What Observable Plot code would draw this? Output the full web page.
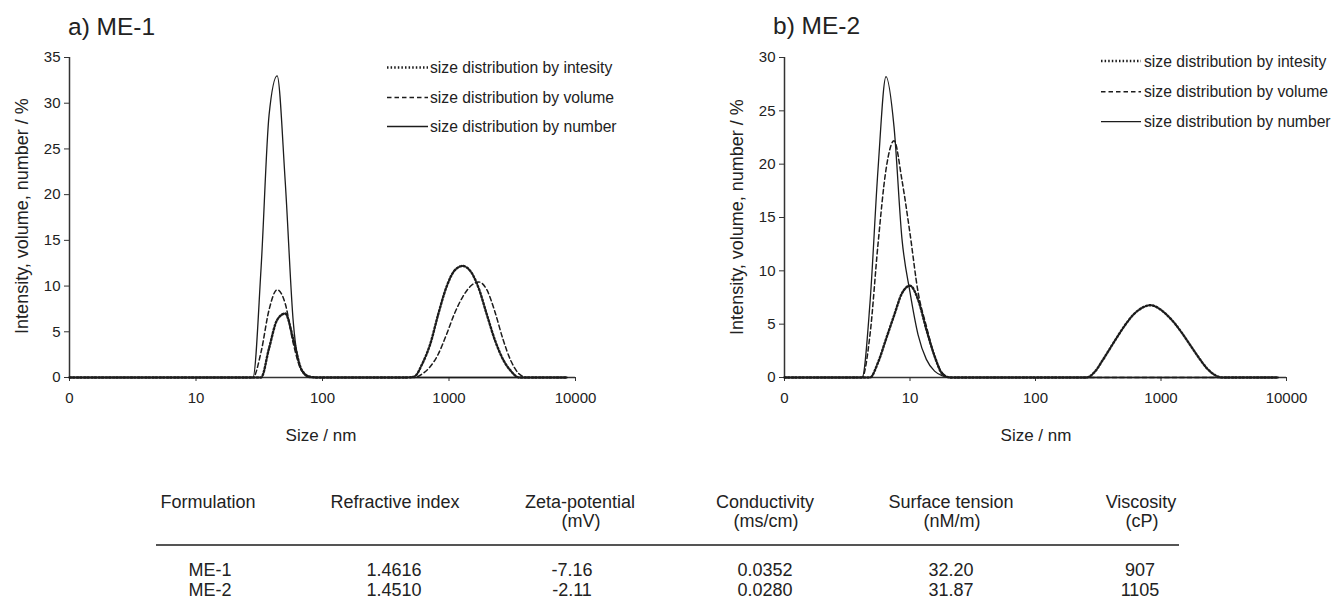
<!DOCTYPE html>
<html><head><meta charset="utf-8">
<script src="https://cdn.jsdelivr.net/npm/d3@7"></script>
<script src="https://cdn.jsdelivr.net/npm/@observablehq/plot@0.6"></script>
<style>
body{margin:0;background:#fff;font-family:"Liberation Sans",Arial,sans-serif;color:#222}
#wrap{position:relative;width:1333px;height:599px;overflow:hidden;background:#fff}
#wrap > svg{position:absolute;top:0}
</style></head><body><div id="wrap"></div>
<script>
// ---------- data ----------
const xTicks = [1, 10, 100, 1000, 10000];
const xTickLabels = ["0", "10", "100", "1000", "10000"];
const yTicksME1 = [0, 5, 10, 15, 20, 25, 30, 35];
const yTicksME2 = [0, 5, 10, 15, 20, 25, 30];
const seriesNames = ["size distribution by intesity", "size distribution by volume", "size distribution by number"];

// ME-1 (sizes in nm, values in %)
const me1IntensitySize = [1, 32.7, 37.8, 43.8, 50.7, 58.8, 68.1, 78.8, 91.3, 459, 531, 615, 712, 825, 955, 1106, 1281, 1484, 1718, 1990, 2305, 2669, 3091, 3580, 8600];
const me1IntensityVal  = [0, 0, 3.2, 6.3, 7.0, 4.2, 0.9, 0.1, 0, 0, 0.1, 1.5, 3.7, 7.0, 9.9, 11.7, 12.2, 11.6, 9.75, 6.9, 4.1, 2.0, 0.7, 0, 0];
const me1VolumeSize = [1, 28.2, 32.7, 37.8, 43.8, 50.7, 58.8, 68.1, 78.8, 91.3, 531, 615, 712, 825, 955, 1106, 1281, 1484, 1718, 1990, 2305, 2669, 3091, 3580, 4145, 8600];
const me1VolumeVal  = [0, 0, 2.8, 7.4, 9.6, 8.1, 3.7, 0.8, 0.1, 0, 0, 0.4, 1.2, 2.6, 4.7, 7.0, 8.8, 10.0, 10.45, 9.6, 7.2, 4.2, 1.8, 0.4, 0, 0];
const me1NumberSize = [1, 28.2, 32.7, 37.8, 43.8, 50.7, 58.8, 68.1, 78.8, 8600];
const me1NumberVal  = [0, 0, 12, 28.7, 33, 21.5, 6, 0.8, 0, 0];

// ME-2
const me2IntensitySize = [1, 4.8, 5.56, 6.44, 7.46, 8.63, 10.0, 11.6, 13.5, 15.7, 18.2, 21.0, 255, 295, 342, 396, 459, 531, 615, 712, 825, 955, 1106, 1281, 1484, 1718, 1990, 2305, 2669, 3091, 8600];
const me2IntensityVal  = [0, 0, 1.4, 3.6, 5.8, 7.9, 8.6, 7.3, 4.5, 2.0, 0.3, 0, 0, 0.5, 1.6, 2.8, 4.0, 5.1, 6.0, 6.55, 6.78, 6.5, 5.9, 5.1, 4.1, 3.0, 1.9, 0.9, 0.25, 0, 0];
const me2VolumeSize = [1, 4.15, 4.8, 5.56, 6.44, 7.46, 8.63, 10.0, 11.6, 13.5, 15.7, 18.2, 21.0, 8600];
const me2VolumeVal  = [0, 0, 4, 12.5, 19.5, 22.2, 18.5, 13.5, 8, 4.8, 2, 0.4, 0, 0];
const me2NumberSize = [1, 4.15, 4.8, 5.56, 6.44, 7.46, 8.63, 10.0, 11.6, 13.5, 15.7, 18.2, 21.0, 8600];
const me2NumberVal  = [0, 0, 7, 19.5, 28.2, 23.5, 13, 8, 4, 1.7, 0.6, 0.15, 0, 0];

// table
const tableColumns = ["Formulation", "Refractive index", "Zeta-potential", "Conductivity", "Surface tension", "Viscosity"];
const tableUnits = ["", "", "(mV)", "(ms/cm)", "(nM/m)", "(cP)"];
const formulations = ["ME-1", "ME-2"];
const refractiveIndex = ["1.4616", "1.4510"];
const zetaPotential = ["-7.16", "-2.11"];
const conductivity = ["0.0352", "0.0280"];
const surfaceTension = ["32.20", "31.87"];
const viscosity = ["907", "1105"];

// ---------- drawing ----------
const FONT = '"Liberation Sans", Arial, sans-serif';
const INK = "#1c1c1c";
const styles = [
  {dash: "1.5,2.1", width: 2.4},
  {dash: "4.5,3", width: 1.5},
  {dash: null, width: 1.3}
];
const zip = (s, v) => s.map((d, i) => ({size: d, value: v[i]}));

function panel({left, yMax, yTicks, series, mr}) {
  const marks = [
    Plot.ruleY([0], {stroke: "#333", strokeWidth: 1.5}),
    Plot.ruleX([1], {stroke: "#333", strokeWidth: 1.5}),
    Plot.axisX({ticks: xTicks, tickFormat: d => xTickLabels[xTicks.indexOf(d)], tickSize: 4, tickPadding: 11, label: null, fontSize: 15, stroke: "#333"}),
    Plot.axisY({ticks: yTicks, tickSize: 5, tickPadding: 4, label: null, fontSize: 15, stroke: "#333"})
  ];
  series.forEach((data, i) => {
    const st = styles[i];
    const o = {x: "size", y: "value", stroke: INK, strokeWidth: st.width, curve: "monotone-x"};
    if (st.dash) o.strokeDasharray = st.dash;
    marks.push(Plot.line(data, o));
  });
  const svg = Plot.plot({
    width: 600, height: 420,
    marginLeft: 69, marginRight: mr, marginTop: 57, marginBottom: 43,
    x: {type: "log", domain: [1, 10000]},
    y: {domain: [0, yMax]},
    style: {fontFamily: FONT, fontSize: "15px", color: "#222", background: "transparent"},
    marks
  });
  svg.style.left = left + "px";
  return svg;
}

const wrap = document.getElementById("wrap");
wrap.appendChild(panel({left: 0, yMax: 35, yTicks: yTicksME1, mr: 25,
  series: [zip(me1IntensitySize, me1IntensityVal), zip(me1VolumeSize, me1VolumeVal), zip(me1NumberSize, me1NumberVal)]}));
wrap.appendChild(panel({left: 715, yMax: 30, yTicks: yTicksME2, mr: 29,
  series: [zip(me2IntensitySize, me2IntensityVal), zip(me2VolumeSize, me2VolumeVal), zip(me2NumberSize, me2NumberVal)]}));

// overlay text
const ov = d3.select(wrap).append("svg").attr("width", 1333).attr("height", 599)
  .style("left", "0px").style("font-family", FONT).attr("fill", "#222");

function txt(x, y, s, size, anchor = "middle") {
  return ov.append("text").attr("x", x).attr("y", y).attr("font-size", size)
    .attr("text-anchor", anchor).attr("dominant-baseline", "central").text(s);
}
// titles
ov.append("text").attr("x", 68).attr("y", 35).attr("font-size", 24.5).text("a) ME-1");
ov.append("text").attr("x", 773).attr("y", 34).attr("font-size", 24.5).text("b) ME-2");
// y-axis titles
[[22, 216], [737, 217]].forEach(([x, y]) => {
  ov.append("text").attr("transform", `translate(${x},${y}) rotate(-90)`).attr("font-size", 18)
    .attr("text-anchor", "middle").attr("dominant-baseline", "central").text("Intensity, volume, number / %");
});
// x-axis titles
txt(321, 435, "Size / nm", 17);
txt(1036, 435, "Size / nm", 17);
// legends
function legend(x0, x1, tx, ys) {
  seriesNames.forEach((name, i) => {
    const st = styles[i];
    const l = ov.append("line").attr("x1", x0).attr("x2", x1).attr("y1", ys[i]).attr("y2", ys[i])
      .attr("stroke", INK).attr("stroke-width", st.width);
    if (st.dash) l.attr("stroke-dasharray", st.dash);
    txt(tx, ys[i], name, 15.7, "start");
  });
}
legend(387, 428, 430, [67.5, 97.5, 126.5]);
legend(1101, 1141, 1144, [61, 91.7, 121.7]);
// table
const colX = [208, 395, 580, 765, 951, 1141];
const valX = [210, 394, 572, 765, 951, 1140];
const cols = [formulations, refractiveIndex, zetaPotential, conductivity, surfaceTension, viscosity];
tableColumns.forEach((h, i) => {
  txt(colX[i], 502, h, 18);
  if (tableUnits[i]) txt(colX[i] + 1, 521, tableUnits[i], 18);
  cols[i].forEach((v, r) => txt(valX[i], [570, 590][r], v, 18));
});
ov.append("line").attr("x1", 156).attr("x2", 1179).attr("y1", 545).attr("y2", 545)
  .attr("stroke", "#555").attr("stroke-width", 2.2);
</script>
</body></html>
